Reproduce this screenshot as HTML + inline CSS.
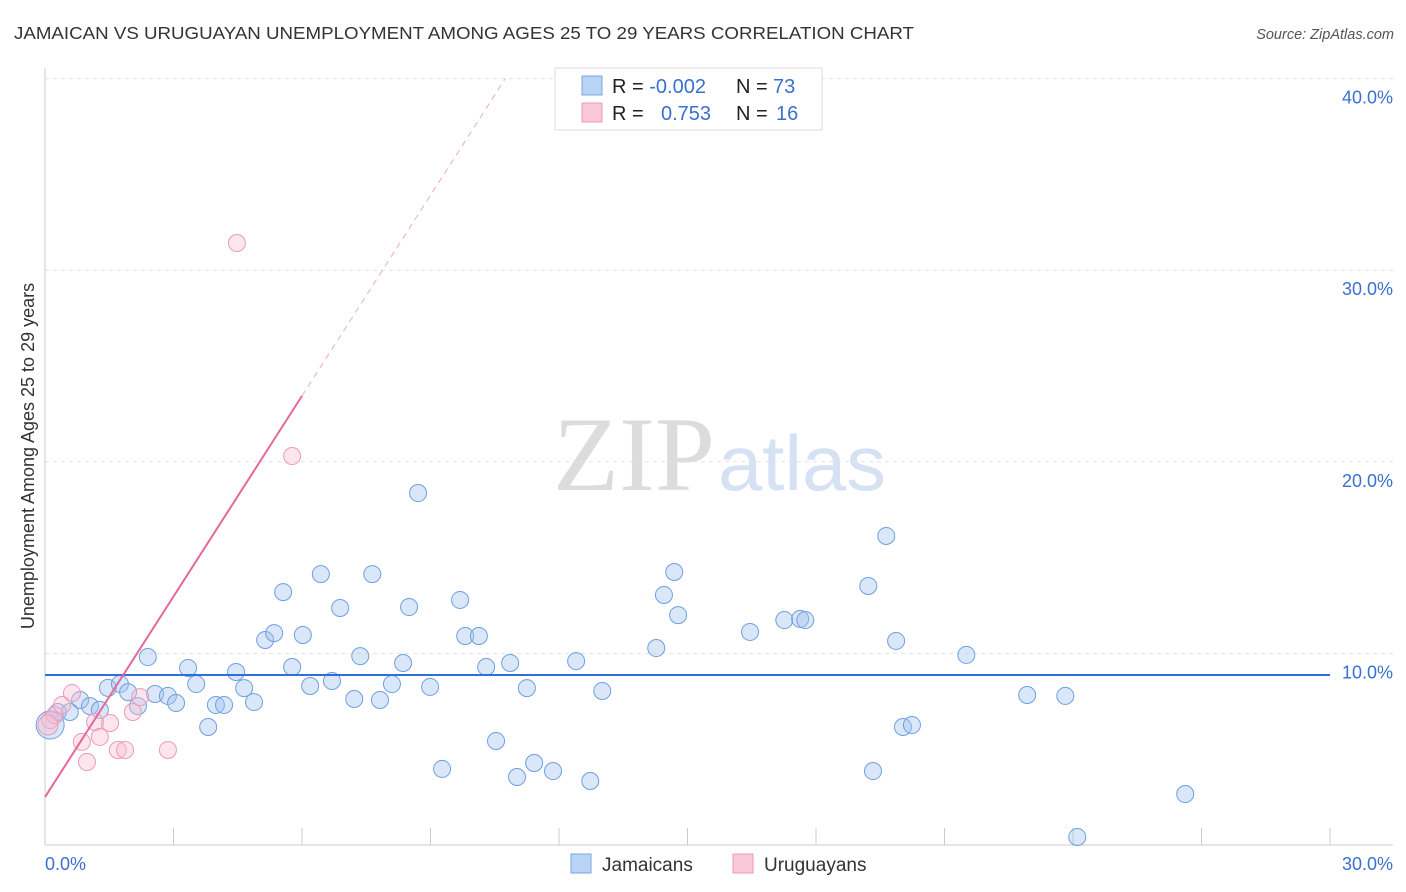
<!DOCTYPE html>
<html><head><meta charset="utf-8"><style>
body{margin:0;background:#fff;}
svg{display:block;font-family:"Liberation Sans",sans-serif;}
</style></head><body>
<svg id="chart" width="1406" height="892" viewBox="0 0 1406 892">
<text x="14" y="39" font-size="17.5" fill="#333" textLength="900" lengthAdjust="spacingAndGlyphs">JAMAICAN VS URUGUAYAN UNEMPLOYMENT AMONG AGES 25 TO 29 YEARS CORRELATION CHART</text>
<text x="1394" y="39" font-size="14.5" fill="#555" font-style="italic" text-anchor="end">Source: ZipAtlas.com</text>
<g>
<text x="553" y="490" font-size="106" fill="#dcdcdc" font-family="Liberation Serif,serif" textLength="162" lengthAdjust="spacingAndGlyphs">ZIP</text>
<text x="718" y="490" font-size="78" fill="#d6e2f4" textLength="168" lengthAdjust="spacingAndGlyphs">atlas</text>
</g>
<g id="grid"></g><g id="marks"></g>
<text transform="translate(34,456) rotate(-90)" font-size="18" fill="#333" text-anchor="middle">Unemployment Among Ages 25 to 29 years</text>
<g>
<rect x="555" y="68" width="267" height="62" fill="#fff" stroke="#ddd"/>
<rect x="582" y="76" width="20" height="19" fill="#b9d3f5" stroke="#7aa6e3"/>
<rect x="582" y="103" width="20" height="19" fill="#fac9d9" stroke="#ee9ab6"/>
<text x="612" y="93" font-size="20" fill="#222">R = <tspan fill="#3a70d0">-0.002</tspan><tspan x="736">N = </tspan><tspan x="773" fill="#3a70d0">73</tspan></text>
<text x="612" y="120" font-size="20" fill="#222">R = <tspan x="661" fill="#3a70d0">0.753</tspan><tspan x="736">N = </tspan><tspan x="776" fill="#3a70d0">16</tspan></text>
</g>
<g>
<rect x="571" y="854" width="20" height="19" fill="#b9d3f5" stroke="#7aa6e3"/>
<text x="602" y="871" font-size="19" fill="#333">Jamaicans</text>
<rect x="733" y="854" width="20" height="19" fill="#fac9d9" stroke="#ee9ab6"/>
<text x="764" y="871" font-size="19" fill="#333">Uruguayans</text>
</g>
</svg>
<script>
const yTicks=[10,20,30,40];
const yTickLabels=["10.0%","20.0%","30.0%","40.0%"];
const xTickLabels=["0.0%","30.0%"];
const jamX=[0.12,0.30,0.58,0.82,1.05,1.28,1.47,1.75,1.94,2.17,2.40,2.57,2.87,3.06,3.34,3.53,3.81,3.99,4.18,4.46,4.65,4.88,5.14,5.35,5.56,5.77,6.02,6.19,6.44,6.70,6.89,7.22,7.36,7.64,7.82,8.10,8.36,8.50,8.71,8.99,9.27,9.69,9.81,10.13,10.30,10.53,10.86,11.02,11.25,11.42,11.86,12.40,12.73,13.01,14.27,14.45,14.69,14.78,16.46,17.26,17.63,17.75,19.22,19.33,19.64,19.87,20.03,20.24,21.51,22.93,23.82,26.62,24.10];
const jamY=[6.26,6.94,6.94,7.57,7.25,7.05,8.20,8.40,7.98,7.25,9.81,7.88,7.78,7.41,9.24,8.40,6.16,7.31,7.31,9.03,8.19,7.46,10.70,11.06,13.20,9.29,10.96,8.30,14.14,8.56,12.37,7.62,9.86,14.14,7.57,8.40,9.50,12.42,18.37,8.25,3.97,12.79,10.91,10.91,9.29,5.43,9.50,3.55,8.19,4.28,3.86,9.60,3.34,8.04,10.28,13.05,14.25,12.00,11.12,11.74,11.80,11.74,13.52,3.86,16.13,10.65,6.16,6.26,9.92,7.83,7.78,2.66,0.42];
const uruX=[0.12,0.23,0.40,0.63,0.86,0.98,1.17,1.28,1.52,1.70,1.87,2.05,2.22,2.87,4.48,5.77,0.07];
const uruY=[6.52,6.78,7.31,7.93,5.38,4.33,6.42,5.64,6.37,4.96,4.96,6.94,7.72,4.96,31.42,20.30,6.26];
const jamLine=[8.87,8.87];
const uruIntercept=2.5, uruSlope=3.49;
const X0=45,X1=1330,Y0=845,PY=19.16;
const xs=v=>X0+(v/30)*(X1-X0), ys=v=>Y0-v*PY;
const NS="http://www.w3.org/2000/svg";
function mk(tag,attrs,parent){const e=document.createElementNS(NS,tag);for(const k in attrs)e.setAttribute(k,attrs[k]);parent.appendChild(e);return e;}
const grid=document.getElementById('grid'),marks=document.getElementById('marks');
yTicks.forEach((t,i)=>{
 const l=mk('line',{x1:X0,x2:1393,y1:ys(t),y2:ys(t),stroke:'#e2e2e2','stroke-dasharray':'4,4'},grid);
 
 
 const tx=mk('text',{x:1393,y:ys(t)+25,'font-size':18,fill:'#3a70d0','text-anchor':'end'},grid);
 tx.textContent=yTickLabels[i];
 
 
});
const ax=mk('line',{x1:X0,x2:X0,y1:68,y2:Y0,stroke:'#ccc'},grid);


const bx=mk('line',{x1:X0,x2:1393,y1:Y0,y2:Y0,stroke:'#ccc'},grid);


for(let i=1;i<=10;i++){
 const t=mk('line',{x1:xs(i*3),x2:xs(i*3),y1:Y0,y2:828,stroke:'#ccc'},grid);
 
 
}
[[0,'start',X0],[30,'end',1393]].forEach((d,i)=>{
 const t=mk('text',{x:d[2],y:870,'font-size':18,fill:'#3a70d0','text-anchor':d[1]},grid);
 t.textContent=xTickLabels[i];
 
 
});
jamX.forEach((x,i)=>{
 const c=mk('circle',{cx:xs(x),cy:ys(jamY[i]),r:i===0?14:8.5,fill:'rgba(160,196,240,0.4)',stroke:'#6f9fe0','stroke-width':1},marks);
 
 
});
uruX.forEach((x,i)=>{
 const c=mk('circle',{cx:xs(x),cy:ys(uruY[i]),r:i===16?10:8.5,fill:'rgba(248,190,210,0.4)',stroke:'#ec9ab6','stroke-width':1},marks);
 
 
});
const bl=mk('line',{x1:X0,x2:X1,y1:ys(jamLine[0]),y2:ys(jamLine[1]),stroke:'#2f6fd6','stroke-width':2},marks);


const xEnd=6.0, xTop=(40-uruIntercept)/uruSlope;
const pl=mk('line',{x1:xs(0),y1:ys(uruIntercept),x2:xs(xEnd),y2:ys(uruIntercept+uruSlope*xEnd),stroke:'#e4699a','stroke-width':2},marks);


const pd=mk('line',{x1:xs(xEnd),y1:ys(uruIntercept+uruSlope*xEnd),x2:xs(xTop),y2:ys(40),stroke:'#eeaac4','stroke-width':1,'stroke-dasharray':'6,5'},marks);


</script>
</body></html>
